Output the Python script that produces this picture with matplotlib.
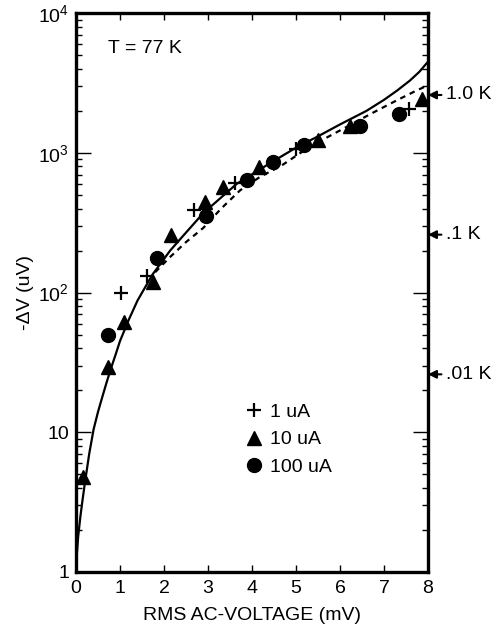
import matplotlib
matplotlib.use('Agg')
import matplotlib.pyplot as plt
from matplotlib.ticker import FixedLocator, LogLocator, NullFormatter, FixedFormatter

plt.rcParams['font.family'] = ['Liberation Sans', 'DejaVu Sans']
plt.rcParams['mathtext.default'] = 'regular'

# ---- data ----
x_1uA = [1.02, 1.61, 2.68, 3.61, 5.0, 7.57]
y_1uA = [100, 131, 389, 611, 1060, 2050]

x_10uA = [0.15, 0.72, 1.10, 1.76, 2.15, 2.93, 3.35, 4.17, 5.51, 6.23, 7.86]
y_10uA = [4.8, 29.5, 62, 119, 258, 447, 566, 787, 1234, 1554, 2414]

x_100uA = [0.72, 1.84, 2.95, 3.88, 4.48, 5.18, 6.45, 7.35]
y_100uA = [50, 177, 352, 640, 863, 1136, 1554, 1915]

solid_x = [0.0, 0.02, 0.05, 0.1, 0.15, 0.2, 0.3, 0.4, 0.5, 0.6, 0.7, 0.8, 0.9, 1.0,
           1.2, 1.4, 1.74, 2.14, 2.42, 2.89, 3.65, 4.41, 5.02, 5.47, 6.0, 6.6,
           7.0, 7.3, 7.59, 7.8, 8.0]
solid_y = [1.0, 1.35, 1.8, 2.5, 3.3, 4.3, 7.0, 10.5, 14, 18, 23, 29, 36, 45,
           64, 88, 135, 200, 252, 370, 600, 845, 1100, 1300, 1600, 2000,
           2400, 2800, 3300, 3800, 4500]

dashed_x = [1.8, 2.14, 2.5, 2.89, 3.3, 3.73, 4.2, 4.64, 5.1, 5.62, 6.15, 6.76, 7.29, 7.74, 8.0]
dashed_y = [140, 180, 230, 290, 400, 540, 680, 800, 1000, 1250, 1536, 1950, 2380, 2800, 3050]

right_labels = ['1.0 K', '.1 K', '.01 K']
right_values = [2600, 260, 26]

x_ticks = [0, 1, 2, 3, 4, 5, 6, 7, 8]
y_ticks = [1, 10, 100, 1000, 10000]
y_ticklabels = ['1', '10', r'$10^2$', r'$10^3$', r'$10^4$']

FS = 14

# ---- figure ----
fig = plt.figure(figsize=(5.0, 6.32), dpi=100)
ax = fig.add_axes([0.152, 0.095, 0.704, 0.884])

ax.plot(solid_x, solid_y, '-', color='black', lw=1.6, zorder=2)
ax.plot(dashed_x, dashed_y, color='black', lw=1.6, linestyle=(0, (2.5, 2.2)), zorder=2)

ax.plot(x_1uA, y_1uA, '+', color='black', ms=10, mew=1.6, ls='none',
        label='1 uA', clip_on=False, zorder=3)
ax.plot(x_10uA, y_10uA, '^', color='black', ms=10, ls='none',
        label='10 uA', clip_on=False, zorder=3)
ax.plot(x_100uA, y_100uA, 'o', color='black', ms=10, ls='none',
        label='100 uA', clip_on=False, zorder=3)

ax.set_yscale('log')
ax.set_xlim(0, 8)
ax.set_ylim(1, 10000)

ax.xaxis.set_major_locator(FixedLocator(x_ticks))
ax.yaxis.set_major_locator(FixedLocator(y_ticks))
ax.yaxis.set_major_formatter(FixedFormatter(y_ticklabels))
ax.yaxis.set_minor_locator(LogLocator(base=10, subs=range(2, 10)))
ax.yaxis.set_minor_formatter(NullFormatter())

for s in ax.spines.values():
    s.set_linewidth(2.4)

ax.tick_params(axis='x', which='major', direction='in', length=5, width=1.0,
               top=True, bottom=True, labelsize=FS, pad=6)
ax.tick_params(axis='y', which='major', direction='in', length=11, width=1.0,
               left=True, right=True, labelsize=FS, pad=5)
ax.tick_params(axis='y', which='minor', direction='in', length=4.5, width=1.0,
               left=True, right=True)

ax.set_xlabel('RMS AC-VOLTAGE (mV)', fontsize=FS, labelpad=7)
ax.set_ylabel('-\u0394V (uV)', fontsize=FS, labelpad=3)

ax.text(0.09, 0.937, 'T = 77 K', transform=ax.transAxes, fontsize=FS,
        ha='left', va='center')

for lab, val in zip(right_labels, right_values):
    ax.annotate(lab, xy=(1.0, val), xycoords=('axes fraction', 'data'),
                xytext=(1.05, val), textcoords=('axes fraction', 'data'),
                fontsize=FS, ha='left', va='center', annotation_clip=False,
                arrowprops=dict(arrowstyle='-|>', color='black', lw=1.5,
                                mutation_scale=12, shrinkA=1, shrinkB=0))

leg = ax.legend(loc='upper left', bbox_to_anchor=(0.443, 0.326), frameon=False,
                fontsize=FS, handlelength=0.85, handletextpad=0.4,
                labelspacing=0.5, borderpad=0.2)

fig.savefig('out.png', dpi=100)
